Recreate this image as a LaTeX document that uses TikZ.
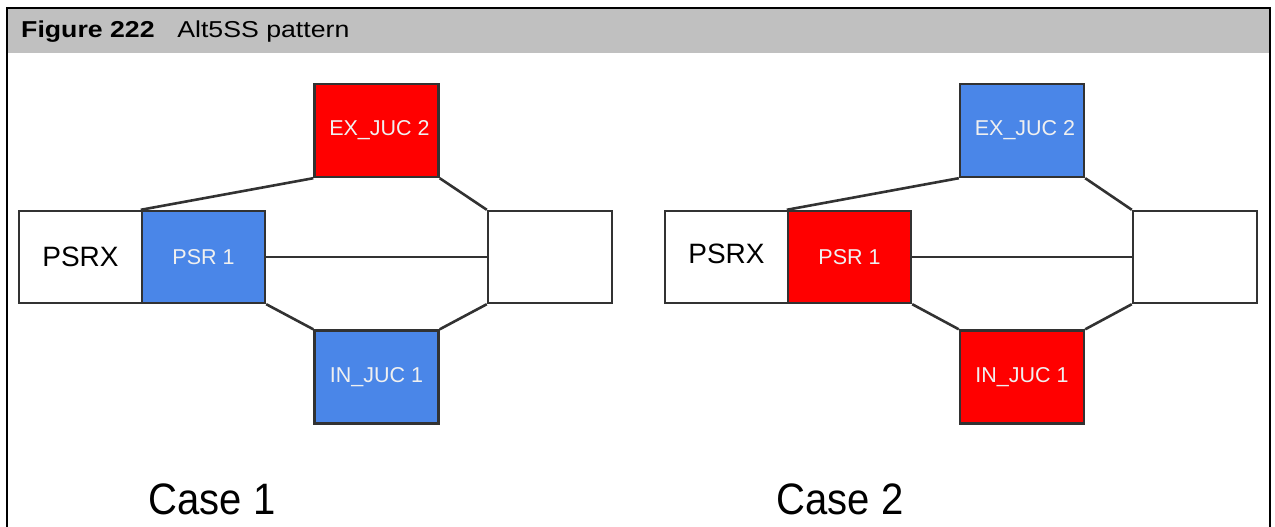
\documentclass[tikz,border=0pt]{standalone}
\usepackage{fontspec}
\setmainfont{Liberation Sans}
\definecolor{headgray}{RGB}{192,192,192}
\definecolor{boxline}{RGB}{50,50,50}
\definecolor{jblue}{RGB}{74,134,232}
\definecolor{jred}{RGB}{255,0,0}
\begin{document}
\begin{tikzpicture}[x=1pt,y=-1pt,
  box/.style={draw=boxline, line width=2.4, inner sep=0, minimum width=123, minimum height=92, fill=white},
  jbox/.style={box, minimum width=124, minimum height=93, text=white!94!black, font=\fontsize{21.5}{24}\selectfont},
  conn/.style={draw=boxline, line width=2.6},
  lbl/.style={font=\fontsize{44}{50}\selectfont, xscale=0.91, inner sep=0}]
\useasboundingbox (0,0) rectangle (1275,527);
\fill[headgray] (7,8) rectangle (1270,53);
\draw[line width=2, line cap=rect] (7,527) -- (7,8) -- (1270,8) -- (1270,527);
\node[anchor=base west, inner sep=0] (title) at (21,38)
  {\scalebox{1.16}[1]{\fontsize{23}{26}\selectfont\textbf{Figure 222}\hspace{0.85em}Alt5SS pattern}};

% Case 1
\node[box, font=\fontsize{28}{32}\selectfont] (psrxA) at (80.5,257) {PSRX};
\node[jbox, fill=jblue, minimum width=123, minimum height=92] (psrA) at (203.5,257) {PSR 1};
\node[jbox, fill=jred] (exA) at (376.5,130.5) {\hspace{6pt}EX\_JUC 2};
\node[jbox, fill=jblue] (inA) at (376.5,377) {IN\_JUC 1};
\node[box, minimum width=124] (rA) at (550,257) {};
\draw[conn] (psrA.north west) -- (exA.south west);
\draw[conn] (exA.south east) -- (rA.north west);
\draw[conn] (psrA.south east) -- (inA.north west);
\draw[conn] (inA.north east) -- (rA.south west);
\draw[conn] (psrA.east) -- (rA.west);
\node[lbl] (case1) at (212,499) {Case 1};

% Case 2
\node[box, font=\fontsize{28}{32}\selectfont] (psrxB) at (726.5,257) {\raisebox{7pt}{PSRX}};
\node[jbox, fill=jred, minimum width=123, minimum height=92] (psrB) at (849.5,257) {PSR 1};
\node[jbox, fill=jblue] (exB) at (1022,130.5) {\hspace{6pt}EX\_JUC 2};
\node[jbox, fill=jred] (inB) at (1022,377) {IN\_JUC 1};
\node[box, minimum width=124] (rB) at (1195,257) {};
\draw[conn] (psrB.north west) -- (exB.south west);
\draw[conn] (exB.south east) -- (rB.north west);
\draw[conn] (psrB.south east) -- (inB.north west);
\draw[conn] (inB.north east) -- (rB.south west);
\draw[conn] (psrB.east) -- (rB.west);
\node[lbl] (case2) at (840,499) {Case 2};
\end{tikzpicture}
\end{document}
